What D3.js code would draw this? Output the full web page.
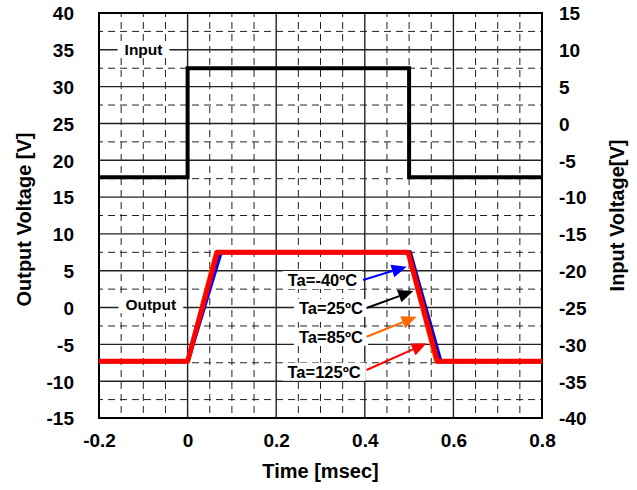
<!DOCTYPE html>
<html>
<head>
<meta charset="utf-8">
<script src="https://cdn.jsdelivr.net/npm/d3@7/dist/d3.min.js"></script>
<style>
  html, body { margin: 0; padding: 0; background: #fff; }
  svg { display: block; font-family: "Liberation Sans", Arial, sans-serif; font-weight: bold; }
</style>
</head>
<body>
<svg id="chart" width="637" height="490"></svg>
<script>
// Axis tick values
const timeTicks = [-0.2, 0, 0.2, 0.4, 0.6, 0.8];
const outputTicks = [40, 35, 30, 25, 20, 15, 10, 5, 0, -5, -10, -15];
const inputTicks = [15, 10, 5, 0, -5, -10, -15, -20, -25, -30, -35, -40];

// Input pulse (right axis, V) vs time (msec)
const inputTime    = [-0.2, 0, 0, 0.5, 0.5, 0.8];
const inputVoltage = [-7.3, -7.3, 7.5, 7.5, -7.3, -7.3];

// Output response per ambient temperature (left axis, V)
const tempLabels = ["Ta=-40ºC", "Ta=25ºC", "Ta=85ºC", "Ta=125ºC"];
const tempColors = ["#0000ff", "#000000", "#ff6a00", "#ff0000"];
const outTime = [
  [-0.2, 0, 0.075, 0.502, 0.571, 0.8],
  [-0.2, 0, 0.068, 0.500, 0.566, 0.8],
  [-0.2, 0, 0.064, 0.497, 0.561, 0.8],
  [-0.2, 0, 0.067, 0.498, 0.564, 0.8]
];
const outVoltage = [
  [-7.3, -7.3, 7.5, 7.5, -7.3, -7.3],
  [-7.3, -7.3, 7.5, 7.5, -7.3, -7.3],
  [-7.3, -7.3, 7.5, 7.5, -7.3, -7.3],
  [-7.3, -7.3, 7.5, 7.5, -7.3, -7.3]
];

// Annotation anchors in data units: label centre, arrow tail, arrow tip
const noteLabelT = [0.3045, 0.3237, 0.3237, 0.308];
const noteLabelV = [3.74, -0.06, -3.96, -8.71];
const noteTailT  = [0.396, 0.404, 0.404, 0.404];
const noteTailV  = [3.74, -0.06, -3.96, -8.48];
const noteTipT   = [0.4946, 0.5095, 0.517, 0.5395];
const noteTipV   = [5.55, 2.25, -1.24, -4.86];

const svg = d3.select("#chart");
const plotL = 99, plotR = 542, plotT = 13, plotB = 418;

const x = d3.scaleLinear().domain([-0.2, 0.8]).range([plotL, plotR]);
const yOut = d3.scaleLinear().domain([-15, 40]).range([plotB, plotT]);
const yIn = d3.scaleLinear().domain([-40, 15]).range([plotB, plotT]);

// Plain ASCII hyphen for negative tick values
const hyphenInt = d => String(d);
const hyphenTime = d => d === 0 ? "0" : d.toFixed(1);

// Grid: minor dashed lines every 0.05 ms / 2.5 V, major solid every 0.2 ms / 5 V
const xMinor = d3.range(-0.2, 0.8001, 0.05).filter(t => Math.abs(Math.round(t / 0.2) * 0.2 - t) > 1e-6);
const yMinor = d3.range(-15, 40.001, 2.5).filter(v => Math.abs(v % 5) > 1e-6);

const grid = svg.append("g");
grid.selectAll("line.xm").data(xMinor).join("line")
  .attr("x1", d => x(d)).attr("x2", d => x(d))
  .attr("y1", plotT).attr("y2", plotB)
  .attr("stroke", "#222").attr("stroke-width", 1).attr("stroke-dasharray", "7,5")
  .attr("stroke-dashoffset", 3);
grid.selectAll("line.ym").data(yMinor).join("line")
  .attr("x1", plotL).attr("x2", plotR)
  .attr("y1", d => yOut(d)).attr("y2", d => yOut(d))
  .attr("stroke", "#222").attr("stroke-width", 1).attr("stroke-dasharray", "7,5")
  .attr("stroke-dashoffset", 3);
grid.selectAll("line.xM").data(timeTicks.slice(1, -1)).join("line")
  .attr("x1", d => x(d)).attr("x2", d => x(d))
  .attr("y1", plotT).attr("y2", plotB)
  .attr("stroke", "#222").attr("stroke-width", 1.4);
grid.selectAll("line.yM").data(outputTicks.slice(1, -1)).join("line")
  .attr("x1", plotL).attr("x2", plotR)
  .attr("y1", d => yOut(d)).attr("y2", d => yOut(d))
  .attr("stroke", "#222").attr("stroke-width", 1.4);

// Plot frame
svg.append("rect")
  .attr("x", plotL).attr("y", plotT)
  .attr("width", plotR - plotL).attr("height", plotB - plotT)
  .attr("fill", "none").attr("stroke", "#000").attr("stroke-width", 2);

// Text label with white backing box
function boxedLabel(cx, cy, text, size, padX, padY) {
  const g = svg.append("g");
  const t = g.append("text")
    .attr("x", cx).attr("y", cy)
    .attr("text-anchor", "middle").attr("dominant-baseline", "central")
    .attr("font-size", size).attr("fill", "#000").text(text);
  const bb = t.node().getBBox();
  g.insert("rect", "text")
    .attr("x", bb.x - padX).attr("y", bb.y - padY)
    .attr("width", bb.width + 2 * padX).attr("height", bb.height + 2 * padY)
    .attr("fill", "#fff");
  return g;
}

boxedLabel(x(-0.0995), yOut(35.05), "Input", 15.5, 7, 0);
boxedLabel(x(-0.0830), yOut(0.4), "Output", 15.5, 7, 0);

// Annotation labels
tempLabels.forEach((lab, i) => {
  boxedLabel(x(noteLabelT[i]), yOut(noteLabelV[i]), lab, 16.5, 5, 0);
});

// Traces
const line = d3.line().x(d => x(d[0])).y(d => d[1]);
svg.append("path")
  .datum(inputTime.map((t, i) => [t, yIn(inputVoltage[i])]))
  .attr("d", line)
  .attr("fill", "none").attr("stroke", "#000").attr("stroke-width", 4)
  .attr("stroke-linejoin", "miter");

outTime.forEach((ts, k) => {
  svg.append("path")
    .datum(ts.map((t, i) => [t, yOut(outVoltage[k][i])]))
    .attr("d", line)
    .attr("fill", "none").attr("stroke", tempColors[k])
    .attr("stroke-width", k === 3 ? 5 : 4)
    .attr("stroke-linejoin", "round");
});

// Arrows pointing at each trace
tempLabels.forEach((lab, i) => {
  const x1 = x(noteTailT[i]), y1 = yOut(noteTailV[i]);
  const x2 = x(noteTipT[i]), y2 = yOut(noteTipV[i]);
  const ang = Math.atan2(y2 - y1, x2 - x1);
  const hl = 15, hw = 6.5;
  const bx = x2 - hl * Math.cos(ang), by = y2 - hl * Math.sin(ang);
  svg.append("line")
    .attr("x1", x1).attr("y1", y1).attr("x2", bx).attr("y2", by)
    .attr("stroke", tempColors[i]).attr("stroke-width", 2);
  const px = -Math.sin(ang), py = Math.cos(ang);
  svg.append("polygon")
    .attr("points", [[x2, y2], [bx + hw * px, by + hw * py], [bx - hw * px, by - hw * py]].map(p => p.join(",")).join(" "))
    .attr("fill", tempColors[i]);
});

// Axes labels
const fs = 19;
svg.append("g").attr("transform", `translate(${plotL - 22},0)`)
  .call(d3.axisLeft(yOut).tickValues(outputTicks).tickSize(0).tickFormat(hyphenInt))
  .call(g => g.select(".domain").remove())
  .selectAll("text").attr("font-size", fs).attr("font-family", null).attr("fill", "#000").attr("dy", "0.36em");

svg.append("g").attr("transform", `translate(${plotR + 14},0)`)
  .call(d3.axisRight(yIn).tickValues(inputTicks).tickSize(0).tickFormat(hyphenInt))
  .call(g => g.select(".domain").remove())
  .selectAll("text").attr("font-size", fs).attr("font-family", null).attr("fill", "#000").attr("dy", "0.36em");

svg.append("g").attr("transform", `translate(0,${plotB + 12})`)
  .call(d3.axisBottom(x).tickValues(timeTicks).tickSize(0).tickFormat(hyphenTime))
  .call(g => g.select(".domain").remove())
  .selectAll("text").attr("font-size", fs).attr("font-family", null).attr("fill", "#000").attr("dy", "0.71em");

svg.append("text")
  .attr("x", (plotL + plotR) / 2).attr("y", 478)
  .attr("text-anchor", "middle").attr("font-size", 20).text("Time [msec]");

svg.append("text")
  .attr("transform", `translate(31,${(plotT + plotB) / 2 + 4}) rotate(-90)`)
  .attr("text-anchor", "middle").attr("font-size", 20).text("Output Voltage [V]");

svg.append("text")
  .attr("transform", `translate(624,${(plotT + plotB) / 2}) rotate(-90)`)
  .attr("text-anchor", "middle").attr("font-size", 20).text("Input Voltage[V]");
</script>
</body>
</html>
